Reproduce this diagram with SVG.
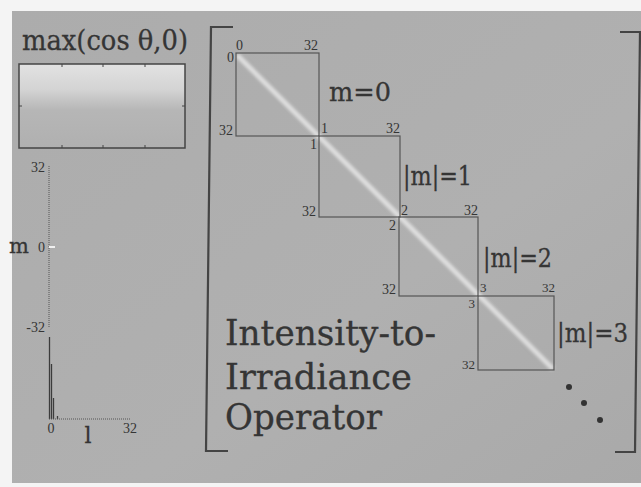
<svg xmlns="http://www.w3.org/2000/svg" width="641" height="487" viewBox="0 0 641 487">
<defs>
<style>
.t{font-family:"DejaVu Serif","Liberation Serif",serif;fill:#353535;stroke:#353535;stroke-width:0.3}
.s{font-family:"Liberation Serif",serif;fill:#353535;font-size:14px}
.xs{font-family:"Liberation Serif",serif;fill:#353535;font-size:13px}
.blk{fill:none;stroke:#555;stroke-width:1.2}
.br{fill:none;stroke:#444;stroke-width:2.2}
.ax{stroke:#555;stroke-width:1;stroke-dasharray:1 1;fill:none}
.bar{stroke:#3c3c3c;stroke-width:1.3}
</style>
<linearGradient id="topg" x1="0" y1="0" x2="0" y2="1">
<stop offset="0" stop-color="#e2e2e2"/>
<stop offset="0.3" stop-color="#d4d4d4"/>
<stop offset="0.55" stop-color="#b6b6b6"/>
<stop offset="1" stop-color="#b0b0b0"/>
</linearGradient>
<linearGradient id="bg" x1="0" y1="0" x2="1" y2="1">
<stop offset="0" stop-color="#acacac"/>
<stop offset="0.6" stop-color="#b0b0b0"/>
<stop offset="1" stop-color="#a9a9a9"/>
</linearGradient>
<filter id="blur" x="-10%" y="-10%" width="120%" height="120%">
<feGaussianBlur stdDeviation="1.4"/>
</filter>
</defs>
<rect width="641" height="487" fill="#f4f4f4"/>
<rect x="12" y="11" width="629" height="472" fill="url(#bg)"/>

<g id="title">
<text class="t" x="22" y="50" font-size="27" textLength="166" lengthAdjust="spacingAndGlyphs">max(cos θ,0)</text>
</g>

<g id="top-plot">
<rect x="19" y="64" width="166" height="84" fill="url(#topg)" stroke="#444" stroke-width="1.5"/>
<path d="M62 64v3M103 64v3M145 64v3M62 148v-3M103 148v-3M145 148v-3M19 106h3M185 106h-3" stroke="#444" stroke-width="1"/>
</g>

<g id="histogram">
<line class="ax" x1="49" y1="166" x2="49" y2="327"/>
<line x1="49" y1="247" x2="55" y2="247" stroke="#f0f0f0" stroke-width="2"/>
<text class="s" x="45" y="172" text-anchor="end">32</text>
<text class="s" x="45" y="252" text-anchor="end">0</text>
<text class="s" x="45" y="332" text-anchor="end">-32</text>
<text class="t" x="9" y="253" font-size="21">m</text>
<line class="bar" x1="49.5" y1="337" x2="49.5" y2="419"/>
<line class="bar" x1="51.5" y1="364" x2="51.5" y2="419"/>
<line class="bar" x1="53.5" y1="398" x2="53.5" y2="419"/>
<line class="bar" x1="57.5" y1="416" x2="57.5" y2="419"/>
<line class="ax" x1="49" y1="419" x2="130" y2="419"/>
<text class="s" x="51" y="433" text-anchor="middle">0</text>
<text class="s" x="130" y="433" text-anchor="middle">32</text>
<text class="t" x="88" y="443" font-size="22" text-anchor="middle">l</text>
</g>

<g id="bracket">
<path class="br" d="M233 27H211L206 451H228"/>
<path class="br" d="M620 32H641M640 32L635 452H615"/>
</g>

<g id="diagonal" filter="url(#blur)">
<line x1="237" y1="55" x2="553" y2="369" stroke="#f2f2f2" stroke-width="5" stroke-opacity="0.7"/>
</g>

<g id="block-m0">
<rect class="blk" x="236" y="53" width="83" height="83"/>
<text class="s" x="236" y="49.5">0</text>
<text class="s" x="318" y="49.5" text-anchor="end">32</text>
<text class="s" x="234" y="62" text-anchor="end">0</text>
<text class="s" x="233" y="135" text-anchor="end">32</text>
<text class="t" x="329" y="101" font-size="26" textLength="62" lengthAdjust="spacingAndGlyphs">m=0</text>
</g>

<g id="block-m1">
<rect class="blk" x="319" y="136" width="81" height="81"/>
<text class="s" x="321" y="133">1</text>
<text class="s" x="400" y="133" text-anchor="end">32</text>
<text class="s" x="317" y="149" text-anchor="end">1</text>
<text class="s" x="316" y="216" text-anchor="end">32</text>
<text class="t" x="403" y="185" font-size="26" textLength="69" lengthAdjust="spacingAndGlyphs">|m|=1</text>
</g>

<g id="block-m2">
<rect class="blk" x="399" y="217" width="79" height="79"/>
<text class="s" x="401" y="215">2</text>
<text class="s" x="478" y="215" text-anchor="end">32</text>
<text class="s" x="396" y="230" text-anchor="end">2</text>
<text class="s" x="396" y="294" text-anchor="end">32</text>
<text class="t" x="483" y="267" font-size="26" textLength="69" lengthAdjust="spacingAndGlyphs">|m|=2</text>
</g>

<g id="block-m3">
<rect class="blk" x="478" y="296" width="76" height="74"/>
<text class="xs" x="480" y="292">3</text>
<text class="xs" x="555" y="292" text-anchor="end">32</text>
<text class="xs" x="475" y="308" text-anchor="end">3</text>
<text class="xs" x="475" y="369" text-anchor="end">32</text>
<text class="t" x="557" y="342" font-size="26" textLength="71" lengthAdjust="spacingAndGlyphs">|m|=3</text>
</g>

<g id="ellipsis" fill="#333">
<circle cx="569" cy="387" r="3"/>
<circle cx="584" cy="403" r="3"/>
<circle cx="600" cy="420" r="3"/>
</g>

<g id="operator-label">
<text class="t" x="225" y="345" font-size="36" textLength="211" lengthAdjust="spacingAndGlyphs">Intensity-to-</text>
<text class="t" x="225" y="389" font-size="36" textLength="187" lengthAdjust="spacingAndGlyphs">Irradiance</text>
<text class="t" x="225" y="429" font-size="36" textLength="157" lengthAdjust="spacingAndGlyphs">Operator</text>
</g>
</svg>
